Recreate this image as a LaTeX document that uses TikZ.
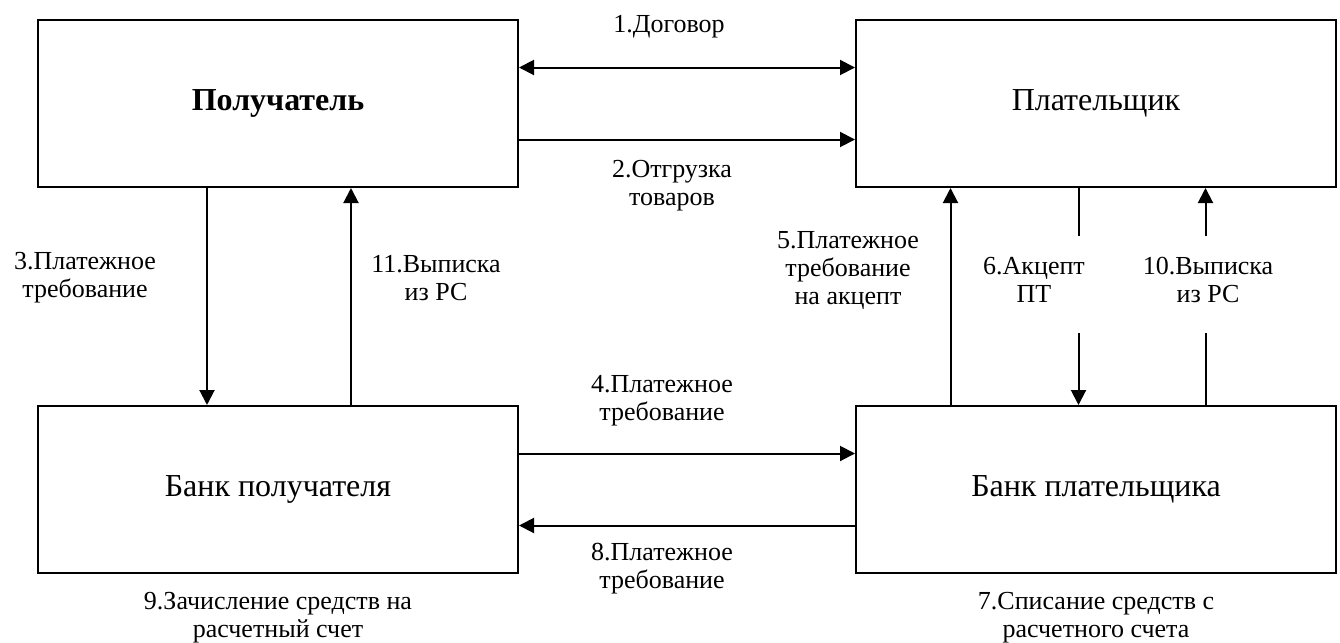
\documentclass[tikz,border=0pt]{standalone}
\usepackage{fontspec}
\setmainfont{Liberation Serif}
\usetikzlibrary{positioning,arrows.meta}
\tikzset{
	party/.style={
		rectangle,
		draw,
		line width=1pt,
		minimum width=240pt,
		minimum height=83.5pt,
		font=\fontsize{16}{19}\selectfont
	},
	lbl/.style={
		align=center,
		inner sep=0pt,
		font=\fontsize{13}{14}\selectfont
	},
	link/.style={line width=1pt},
	arr/.style={link, -{Triangle[length=7.5pt,width=7.5pt]}},
	darr/.style={link, {Triangle[length=7.5pt,width=7.5pt]}-{Triangle[length=7.5pt,width=7.5pt]}}
}

\begin{document}
\begin{tikzpicture}[x=0.5pt, y=-0.5pt, node distance=168pt]
	\useasboundingbox (0,0) rectangle (1340,643);
	\node [party] (pol) at (278,103.5) {\textbf{Получатель}};
	\node [party, right=of pol] (plat) {Плательщик};
	\node [party, below=108.5pt of pol] (bpol) {Банк получателя};
	\node [party, below=108.5pt of plat] (bplat) {Банк плательщика};

	\node [lbl] (l1) at (669,27) {1.Договор};
	\node [lbl] (l2) at (672,186) {2.Отгрузка\\товаров};
	\node [lbl] (l3) at (85,278) {3.Платежное\\требование};
	\node [lbl] (l11) at (436,278) {11.Выписка\\из РС};
	\node [lbl] (l5) at (848,270) {5.Платежное\\требование\\на акцепт};
	\node [lbl] (l6) at (1034,280) {6.Акцепт\\ПТ};
	\node [lbl] (l10) at (1208,280) {10.Выписка\\из РС};
	\node [lbl] (l4) at (662,401) {4.Платежное\\требование};
	\node [lbl] (l8) at (662,569) {8.Платежное\\требование};
	\node [lbl, below=9pt of bpol] (l9) {9.Зачисление средств на\\расчетный счет};
	\node [lbl, below=9pt of bplat] (l7) {7.Списание средств с\\расчетного счета};

	\draw [darr] ([yshift=18pt]pol.east) -- ([yshift=18pt]plat.west);
	\draw [arr] ([yshift=-18pt]pol.east) -- ([yshift=-18pt]plat.west);
	\draw [arr] ([xshift=-35.5pt]pol.south) -- ([xshift=-35.5pt]bpol.north);
	\draw [arr] ([xshift=36.5pt]bpol.north) -- ([xshift=36.5pt]pol.south);
	\draw [arr] ([yshift=18pt]bpol.east) -- ([yshift=18pt]bplat.west);
	\draw [arr] ([yshift=-18pt]bplat.west) -- ([yshift=-18pt]bpol.east);
	\draw [arr] ([xshift=-72.75pt]bplat.north) -- ([xshift=-72.75pt]plat.south);
	\draw [link] ([xshift=-8.75pt]plat.south) -- ([xshift=-8.75pt,yshift=-24pt]plat.south);
	\draw [arr] ([xshift=-8.75pt,yshift=36pt]bplat.north) -- ([xshift=-8.75pt]bplat.north);
	\draw [link] ([xshift=54.75pt]bplat.north) -- ([xshift=54.75pt,yshift=36pt]bplat.north);
	\draw [arr] ([xshift=54.75pt,yshift=-24pt]plat.south) -- ([xshift=54.75pt]plat.south);
\end{tikzpicture}
\end{document}
